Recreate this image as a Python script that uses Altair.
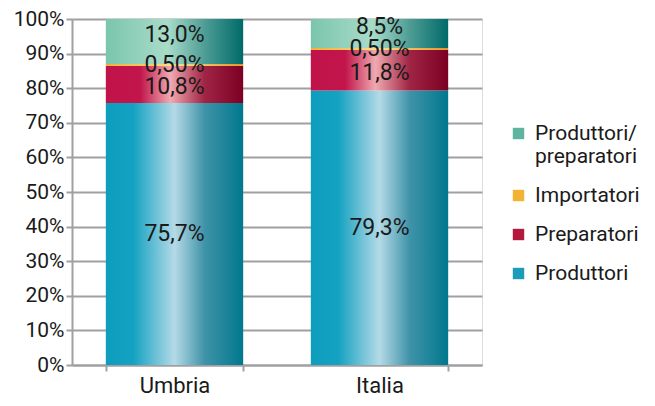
import altair as alt
import pandas as pd

regions = ["Umbria", "Italia"]
series = ["Produttori", "Preparatori", "Importatori", "Produttori/preparatori"]
produttori = [75.7, 79.3]
preparatori = [10.8, 11.8]
importatori = [0.5, 0.5]
prod_prep = [13.0, 8.5]
label_decimals = {"Produttori": 1, "Preparatori": 1, "Importatori": 2, "Produttori/preparatori": 1}

values = {
    "Produttori": produttori,
    "Preparatori": preparatori,
    "Importatori": importatori,
    "Produttori/preparatori": prod_prep,
}

rows = []
for i, r in enumerate(regions):
    base = 0.0
    for s in series:
        v = values[s][i]
        d = label_decimals[s]
        rows.append({
            "region": r, "series": s, "value": v,
            "y0": base, "y1": base + v, "mid": base + v / 2,
            "label": (f"{v:.{d}f}").replace(".", ",") + "%",
        })
        base += v
df = pd.DataFrame(rows)

grad_stops = {
    "Produttori": [(0, "#0d9dbd"), (0.2, "#14a2c2"), (0.5, "#b4dae7"), (0.72, "#3f93a8"), (1, "#00788e")],
    "Preparatori": [(0, "#c1134a"), (0.25, "#c1154b"), (0.47, "#f0a9b0"), (0.72, "#a02444"), (1, "#7c0023")],
    "Importatori": [(0, "#f3b01c"), (0.5, "#fde07e"), (1, "#e49512")],
    "Produttori/preparatori": [(0, "#7bc5ad"), (0.45, "#a8dcc9"), (0.72, "#4e9d95"), (1, "#006a69")],
}


def grad(stops):
    return alt.LinearGradient(
        gradient="linear", x1=0, x2=1, y1=0, y2=0,
        stops=[alt.GradientStop(offset=o, color=c) for o, c in stops],
    )


gradients = {s: grad(grad_stops[s]) for s in series}
label_dy = {"Produttori": 0, "Preparatori": 3, "Importatori": 0, "Produttori/preparatori": -6}

legend_order = ["Produttori/preparatori", "Importatori", "Preparatori", "Produttori"]
legend_colors = ["#5db49f", "#f2b334", "#b3193f", "#1c9cb9"]

FONT = "Roboto"
TXT = "#1a1a1a"
GRAY = "#a0a0a2"

xscale = alt.Scale(domain=regions, paddingInner=0.33, paddingOuter=0.165)
yscale = alt.Scale(domain=[0, 100], clamp=True)

xaxis = alt.Axis(labelAngle=0, labelFontSize=22, labelFont=FONT, labelColor=TXT,
                 labelPadding=4, tickBand="extent", tickSize=6, tickWidth=2,
                 tickColor=GRAY, domainColor=GRAY, domainWidth=2, grid=False)
yaxis = alt.Axis(values=list(range(0, 101, 10)), labelExpr="datum.value + '%'",
                 labelOverlap=False, labelFontSize=21, labelFont=FONT, labelColor=TXT,
                 labelPadding=2, tickSize=6, tickWidth=2, tickColor=GRAY,
                 domainColor=GRAY, domainWidth=2, gridColor=GRAY, gridWidth=2)

layers = []
for s in series:
    sub = alt.Chart(df).transform_filter(alt.datum.series == s)
    layers.append(sub.mark_bar(color=gradients[s]).encode(
        x=alt.X("region:N", sort=regions, scale=xscale, title=None, axis=xaxis),
        y=alt.Y("y0:Q", scale=yscale, title=None, axis=yaxis),
        y2="y1:Q"))
for s in series:
    sub = alt.Chart(df).transform_filter(alt.datum.series == s)
    layers.append(sub.mark_text(font=FONT, fontSize=23, color=TXT, dy=label_dy[s]).encode(
        x=alt.X("region:N", sort=regions, scale=xscale, title=None, axis=xaxis),
        y=alt.Y("mid:Q", scale=yscale, title=None, axis=yaxis),
        text="label:N"))

legend_layer = alt.Chart(df).transform_filter("false").mark_square(opacity=1).encode(
    color=alt.Color("series:N", scale=alt.Scale(domain=legend_order, range=legend_colors),
                    legend=alt.Legend(title=None, orient="none", legendX=436, legendY=104,
                                      symbolType="square", symbolSize=130,
                                      symbolOpacity=1, labelFont=FONT, labelFontSize=21, labelColor=TXT,
                                      rowPadding=17, labelOffset=6, padding=0,
                                      labelExpr="datum.label == 'Produttori/preparatori' ? ['Produttori/', 'preparatori'] : datum.label"))
)
layers.append(legend_layer)

chart = alt.layer(*layers).properties(
    width=410, height=346,
    padding={"top": 0, "left": 5, "right": 0, "bottom": 0},
).configure_view(stroke=GRAY, strokeWidth=2).configure(background="white")

chart.save("out.html", embed_options={"renderer": "svg", "actions": False})
